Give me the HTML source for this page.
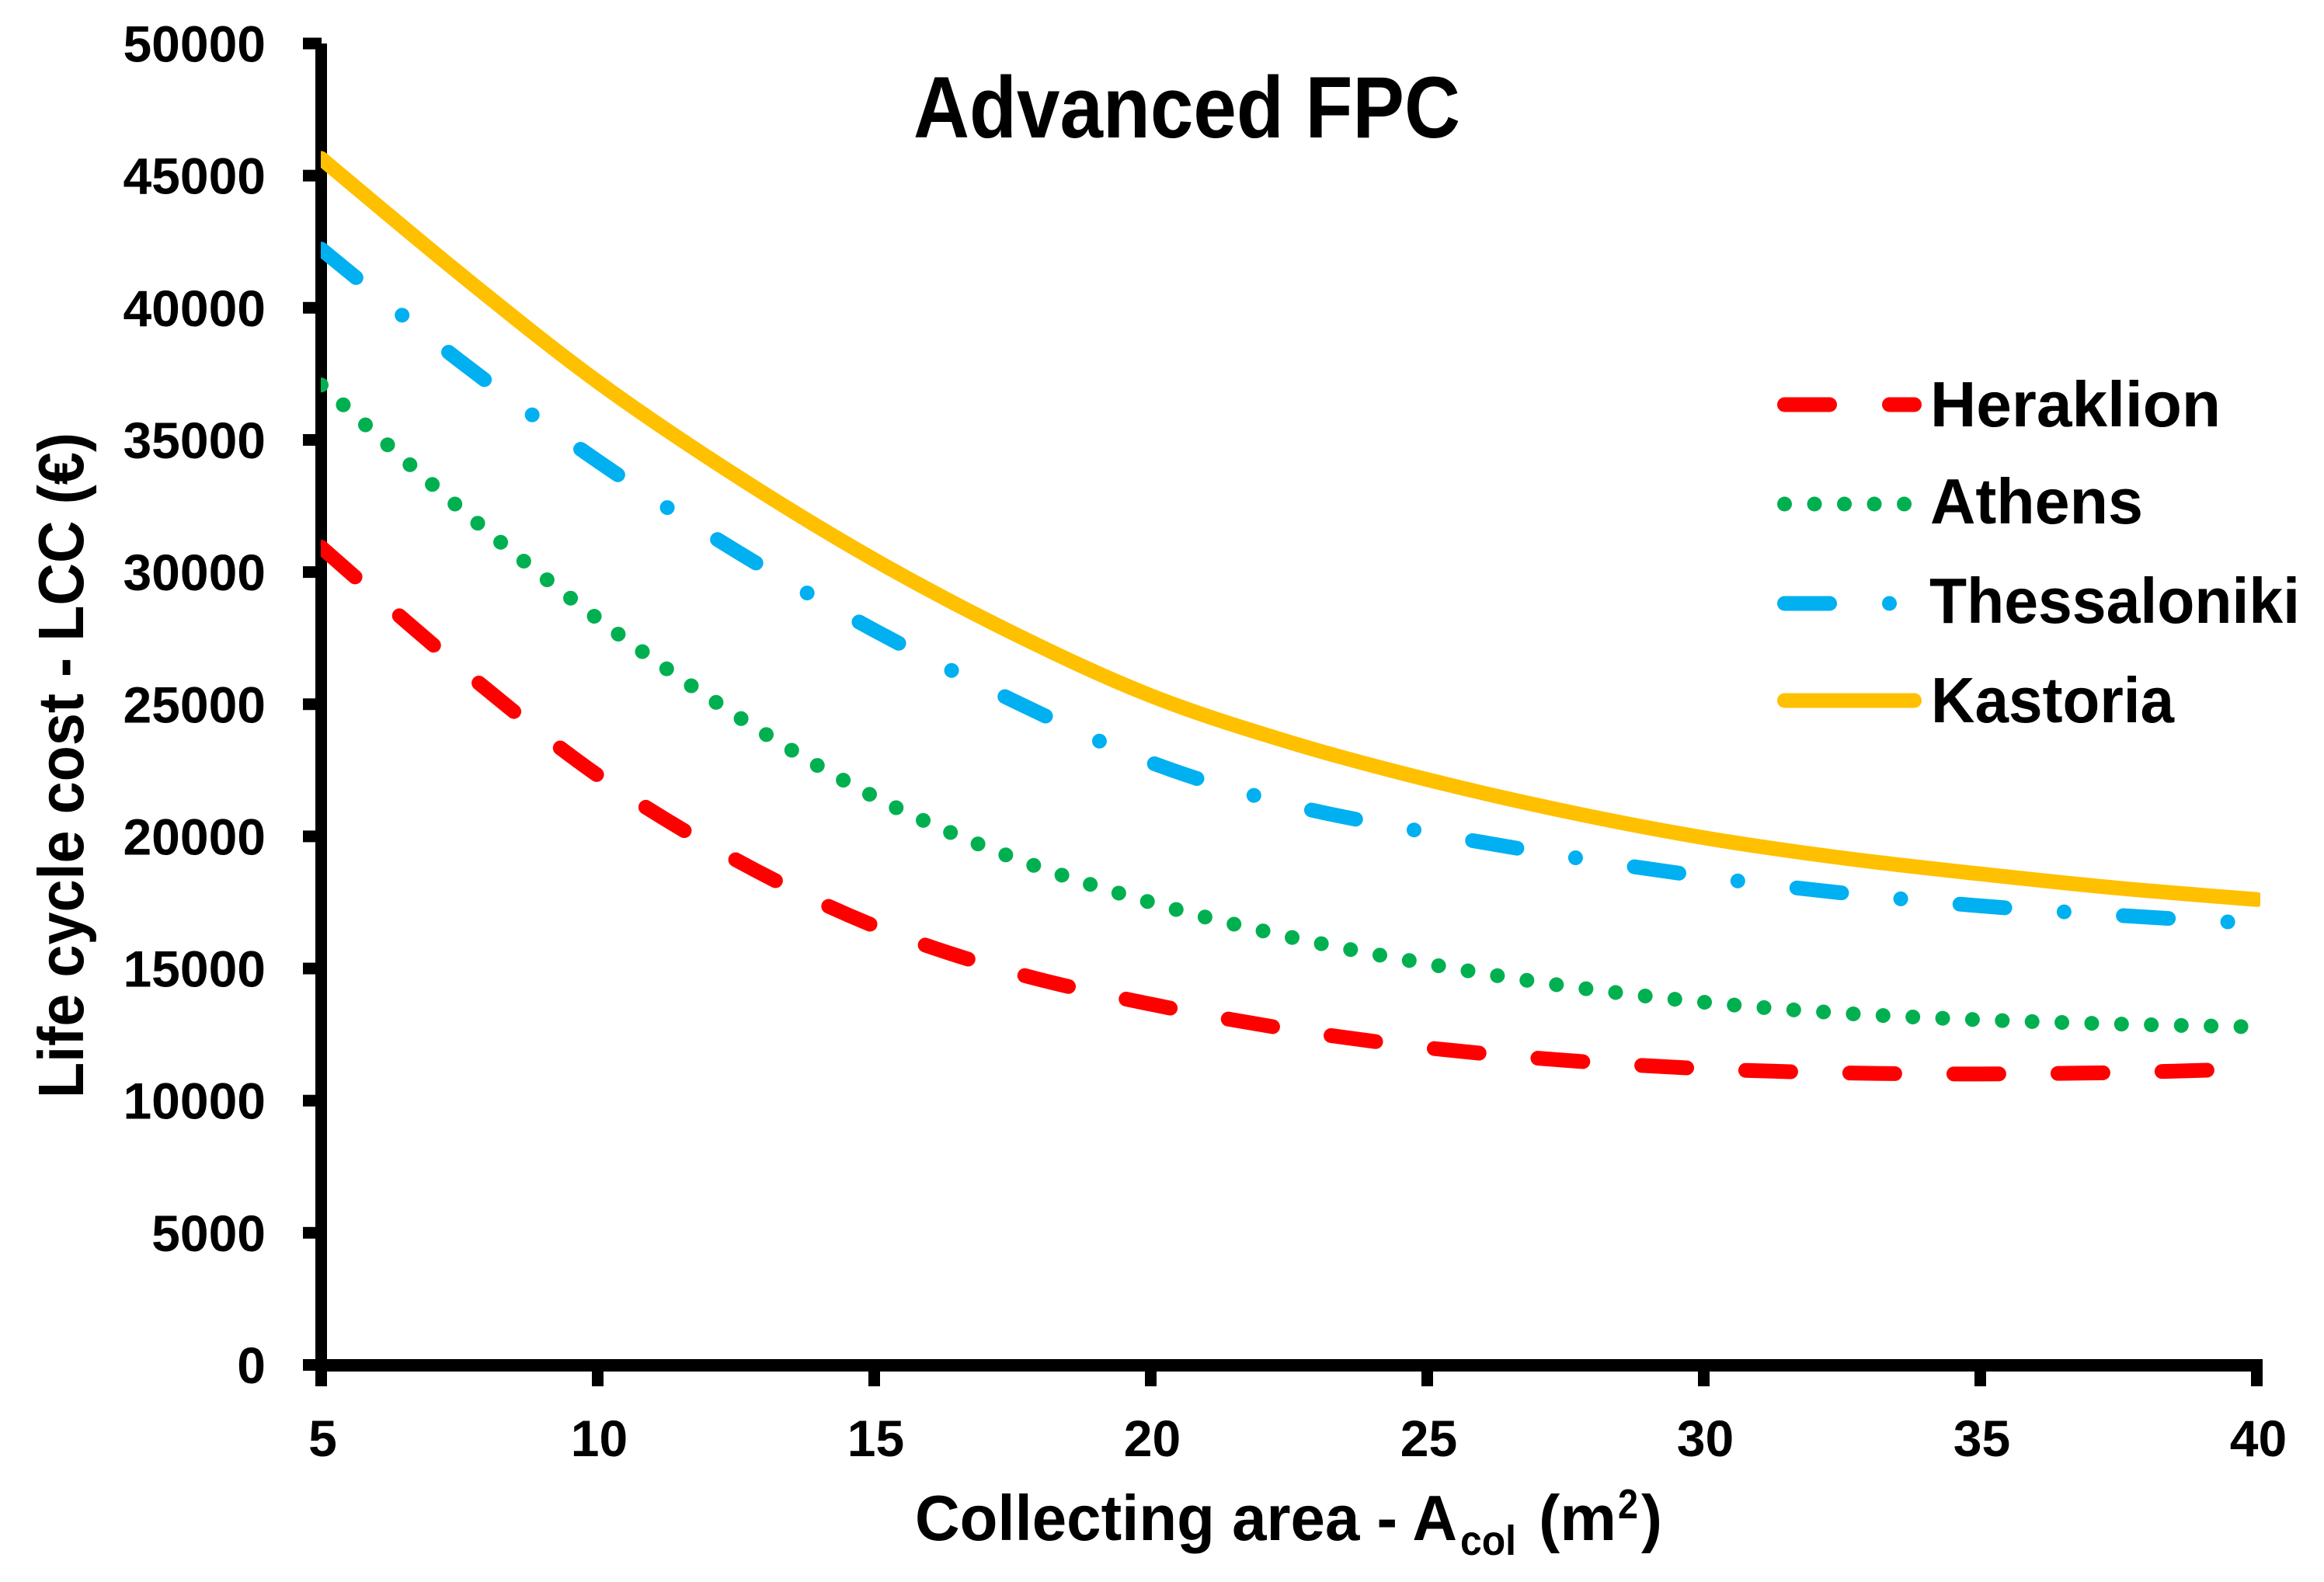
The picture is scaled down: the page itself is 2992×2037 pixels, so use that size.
<!DOCTYPE html>
<html lang="en">
<head>
<meta charset="utf-8">
<title>Advanced FPC life cycle cost</title>
<style>
  html, body { margin: 0; padding: 0; background: #ffffff; }
  svg { display: block; }
  text { font-family: "Liberation Sans", sans-serif; font-weight: 700; fill: #000000; }
</style>
</head>
<body>
<svg id="chart" xmlns="http://www.w3.org/2000/svg" width="2992" height="2037" viewBox="0 0 2992 2037">
  <defs>
    <clipPath id="plot-clip"><rect x="413" y="0" width="2497" height="2037"></rect></clipPath>
  </defs>
  <rect x="0" y="0" width="2992" height="2037" fill="#ffffff"></rect>
  <g id="axes"></g>
  <g id="series" clip-path="url(#plot-clip)"></g>

  <text x="1176" y="177" font-size="112" textLength="704" lengthAdjust="spacingAndGlyphs">Advanced FPC</text>

  <text transform="translate(107 1414) rotate(-90)" font-size="83" textLength="857" lengthAdjust="spacingAndGlyphs">Life cycle cost - LCC (€)</text>

  <g>
    <text x="1178" y="1983" font-size="83" textLength="698" lengthAdjust="spacingAndGlyphs">Collecting area - A</text>
    <text x="1880" y="2002" font-size="54" textLength="72" lengthAdjust="spacingAndGlyphs">col</text>
    <text x="1981" y="1983" font-size="83" textLength="100" lengthAdjust="spacingAndGlyphs">(m</text>
    <text x="2083" y="1955" font-size="54" textLength="26" lengthAdjust="spacingAndGlyphs">2</text>
    <text x="2113" y="1983" font-size="83" textLength="27" lengthAdjust="spacingAndGlyphs">)</text>
  </g>

  <g>
    <g>
      <line x1="2297.5" y1="521" x2="2464.5" y2="521" stroke="#ff0000" stroke-width="19" stroke-linecap="round" stroke-dasharray="58 77"></line>
      <text x="2485" y="549" font-size="83" textLength="374" lengthAdjust="spacingAndGlyphs">Heraklion</text>
    </g>
    <g>
      <line x1="2297.5" y1="649" x2="2460" y2="649" stroke="#00b050" stroke-width="19" stroke-linecap="round" stroke-dasharray="0.01 38.5"></line>
      <text x="2485" y="674" font-size="83" textLength="274" lengthAdjust="spacingAndGlyphs">Athens</text>
    </g>
    <g>
      <line x1="2297.5" y1="777" x2="2464.5" y2="777" stroke="#00b0f0" stroke-width="19" stroke-linecap="round" stroke-dasharray="58 77 0.01 77"></line>
      <text x="2484" y="802" font-size="83" textLength="477" lengthAdjust="spacingAndGlyphs">Thessaloniki</text>
    </g>
    <g>
      <line x1="2297.5" y1="902" x2="2464.5" y2="902" stroke="#ffc000" stroke-width="19" stroke-linecap="round"></line>
      <text x="2486" y="930" font-size="83" textLength="313" lengthAdjust="spacingAndGlyphs">Kastoria</text>
    </g>
  </g>
</svg>

<script>
const collectingArea = [5, 7.5, 10, 12.5, 15, 17.5, 20, 22.5, 25, 27.5, 30, 32.5, 35, 37.5, 40];
const heraklion = [30940, 26410, 22310, 19110, 16610, 14860, 13650, 12700, 12000, 11525, 11210, 11050, 11010, 11065, 11210];
const athens = [37080, 32430, 28230, 24580, 21500, 19200, 17500, 16200, 15180, 14340, 13725, 13310, 13060, 12900, 12790];
const thessaloniki = [42220, 38000, 34200, 30800, 27800, 25150, 22800, 21200, 20150, 19250, 18480, 17860, 17370, 17010, 16700];
const kastoria = [45650, 41300, 37200, 33650, 30470, 27700, 25325, 23570, 22150, 20950, 19950, 19185, 18580, 18040, 17610];
const xTickLabels = [5, 10, 15, 20, 25, 30, 35, 40];
const yTickLabels = [0, 5000, 10000, 15000, 20000, 25000, 30000, 35000, 40000, 45000, 50000];

const SVG_NS = 'http://www.w3.org/2000/svg';
const xScale = (v) => 413.5 + (v - 5) * 71.2;
const yScale = (v) => 1757.5 - v * 0.03403;

function make(tag, attrs, parent) {
  const el = document.createElementNS(SVG_NS, tag);
  Object.keys(attrs).forEach((k) => el.setAttribute(k, attrs[k]));
  parent.appendChild(el);
  return el;
}

function smoothPath(xs, ys) {
  const pts = xs.map((x, i) => [xScale(x), yScale(ys[i])]);
  let d = 'M' + pts[0][0].toFixed(2) + ' ' + pts[0][1].toFixed(2);
  for (let i = 0; i < pts.length - 1; i++) {
    const p0 = pts[Math.max(i - 1, 0)];
    const p1 = pts[i];
    const p2 = pts[i + 1];
    const p3 = pts[Math.min(i + 2, pts.length - 1)];
    const c1x = p1[0] + (p2[0] - p0[0]) / 6;
    const c1y = p1[1] + (p2[1] - p0[1]) / 6;
    const c2x = p2[0] - (p3[0] - p1[0]) / 6;
    const c2y = p2[1] - (p3[1] - p1[1]) / 6;
    d += 'C' + c1x.toFixed(2) + ' ' + c1y.toFixed(2) + ' ' + c2x.toFixed(2) + ' ' + c2y.toFixed(2) + ' ' + p2[0].toFixed(2) + ' ' + p2[1].toFixed(2);
  }
  return d;
}

const axesGroup = document.getElementById('axes');
const seriesGroup = document.getElementById('series');

yTickLabels.forEach((v) => {
  const tick = make('rect', { x: 390, y: yScale(v) - 7.5, width: 24, height: 15, fill: '#000' }, axesGroup);
  
  
  const label = make('text', { x: 342, y: yScale(v) + 23.5, 'font-size': 66, 'text-anchor': 'end' }, axesGroup);
  
  
  label.textContent = String(v);
});

xTickLabels.forEach((v) => {
  const tick = make('rect', { x: xScale(v) - 7.5, y: 1750, width: 15, height: 35, fill: '#000' }, axesGroup);
  
  
  const label = make('text', { x: xScale(v) + 2, y: 1875, 'font-size': 66, 'text-anchor': 'middle' }, axesGroup);
  
  
  label.textContent = String(v);
});

const yAxisLine = make('rect', { x: xScale(5) - 7.5, y: yScale(50000), width: 15, height: yScale(0) - yScale(50000) + 8, fill: '#000' }, axesGroup);



const xAxisLine = make('rect', { x: xScale(5) - 7.5, y: yScale(0) - 7.5, width: xScale(40) - xScale(5) + 8, height: 16, fill: '#000' }, axesGroup);



const heraklionLine = make('path', { d: smoothPath(collectingArea, heraklion), fill: 'none', stroke: '#ff0000', 'stroke-width': 19, 'stroke-linecap': 'round', 'stroke-dasharray': '58 76' }, seriesGroup);



const athensLine = make('path', { d: smoothPath(collectingArea, athens), fill: 'none', stroke: '#00b050', 'stroke-width': 19, 'stroke-linecap': 'round', 'stroke-dasharray': '0.01 38.4' }, seriesGroup);



const thessalonikiLine = make('path', { d: smoothPath(collectingArea, thessaloniki), fill: 'none', stroke: '#00b0f0', 'stroke-width': 19, 'stroke-linecap': 'round', 'stroke-dasharray': '58 76.5 0.01 76.5' }, seriesGroup);



const kastoriaLine = make('path', { d: smoothPath(collectingArea, kastoria), fill: 'none', stroke: '#ffc000', 'stroke-width': 19, 'stroke-linecap': 'round' }, seriesGroup);


</script>
</body>
</html>
